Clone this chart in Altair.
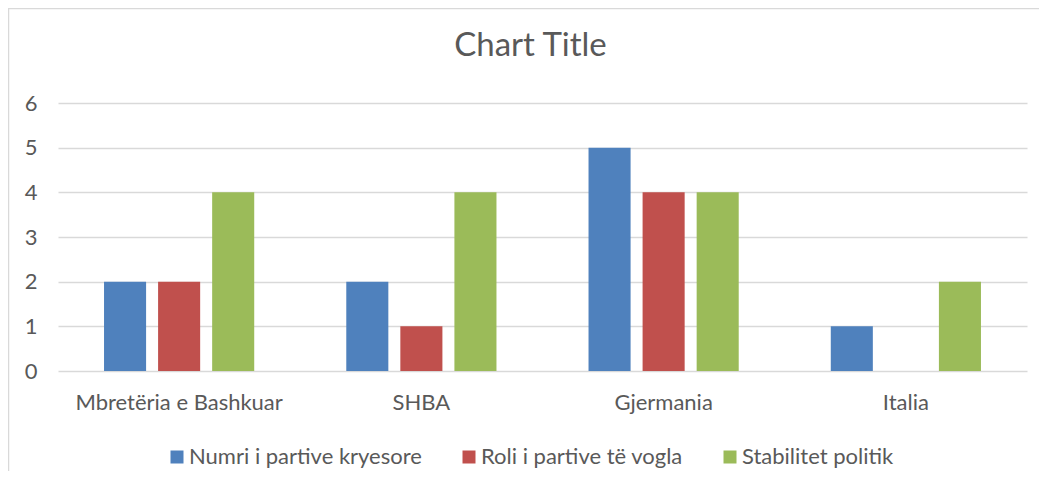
import altair as alt
import pandas as pd

categories = ["Mbretëria e Bashkuar", "SHBA", "Gjermania", "Italia"]
series_names = ["Numri i partive kryesore", "Roli i partive të vogla", "Stabilitet politik"]
numri = [2, 2, 5, 1]
roli = [2, 1, 4, 0]
stabilitet = [4, 4, 4, 2]
series_colors = ["#4f81bd", "#c0504d", "#9bbb59"]

rows = []
for name, vals in zip(series_names, [numri, roli, stabilitet]):
    for c, v in zip(categories, vals):
        rows.append({"Shteti": c, "Seria": name, "Vlera": v})
df = pd.DataFrame(rows)

FONT = "Lato"
TXT = "#595959"
GRID = "#d9d9d9"

bars = alt.Chart(df).mark_bar().encode(
    x=alt.X("Shteti:N", sort=categories, title=None,
            scale=alt.Scale(paddingInner=0.38, paddingOuter=0.19),
            axis=alt.Axis(labelAngle=0, domain=False, ticks=False, tickSize=0,
                          labelPadding=21, labelFontSize=22, labelFont=FONT,
                          labelColor=TXT, grid=False, labelLimit=0)),
    xOffset=alt.XOffset("Seria:N", sort=series_names,
                        scale=alt.Scale(paddingInner=0.222, paddingOuter=0)),
    y=alt.Y("Vlera:Q", title=None,
            scale=alt.Scale(domain=[0, 6], nice=False),
            axis=alt.Axis(values=[0, 1, 2, 3, 4, 5, 6], domain=False, ticks=False,
                          tickSize=0, labelPadding=21, labelFontSize=22,
                          labelFont=FONT, labelColor=TXT, grid=True,
                          gridColor=GRID, gridWidth=1.3)),
    color=alt.Color("Seria:N", sort=series_names, title=None,
                    scale=alt.Scale(domain=series_names, range=series_colors),
                    legend=alt.Legend(orient="none", direction="horizontal",
                                      legendX=108, legendY=343,
                                      symbolType="square", symbolSize=169,
                                      symbolStrokeWidth=0, symbolOpacity=1,
                                      labelFontSize=22, labelFont=FONT,
                                      labelColor=TXT, labelOffset=1,
                                      labelLimit=0, columnPadding=36)),
)

frame_df = pd.DataFrame({"k": [0]})
top_line = alt.Chart(frame_df).mark_rule(color=GRID, strokeWidth=1.5).encode(
    x=alt.value(-50), x2=alt.value(985), y=alt.value(-94.5)
)
left_line = alt.Chart(frame_df).mark_rule(color=GRID, strokeWidth=1.5).encode(
    x=alt.value(-49.5), y=alt.value(-95), y2=alt.value(375)
)

chart = alt.layer(top_line, left_line, bars).properties(
    width=969,
    height=268,
    title=alt.TitleParams("Chart Title", fontSize=33, font=FONT, fontWeight="normal",
                          color=TXT, anchor="middle", frame="group",
                          baseline="alphabetic", offset=-82, dx=-12),
    autosize=alt.AutoSizeParams(type="none"),
    padding={"left": 50, "top": 95, "right": 12, "bottom": 100},
).configure_view(strokeWidth=0)

chart.save("out.html", embed_options={"renderer": "svg", "actions": False})
